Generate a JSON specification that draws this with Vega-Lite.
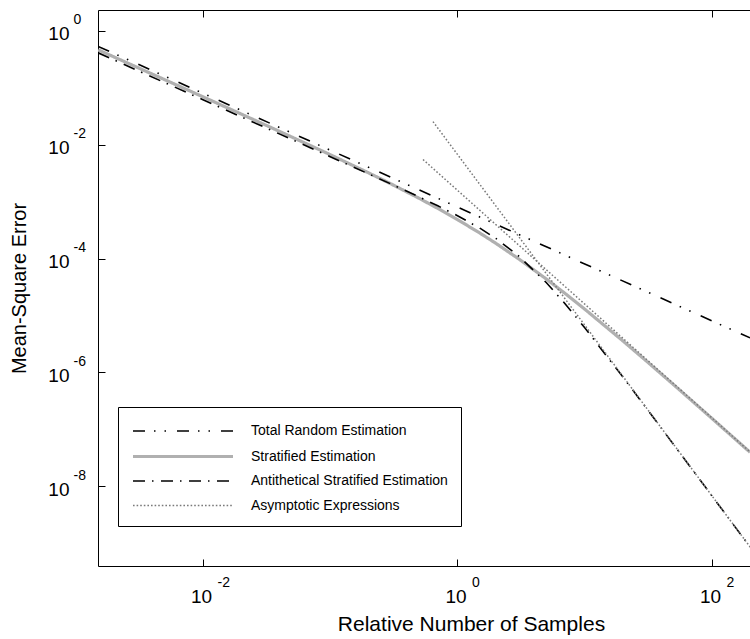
{
  "$schema": "https://vega.github.io/schema/vega-lite/v6.json",
  "autosize": {"type": "none"},
  "padding": {"left": 98, "top": 10, "right": 0, "bottom": 73},
  "width": 652,
  "height": 556,
  "background": "white",
  "config": {
    "view": {"stroke": "black", "strokeWidth": 1},
    "axis": {"labelFont": "Liberation Sans", "titleFont": "Liberation Sans", "labelColor": "black", "titleColor": "black", "tickColor": "black", "grid": false, "titleFontWeight": "normal"},
    "legend": {"labelFont": "Liberation Sans"}
  },
  "data": {"values": [
    {"s": "Total Random Estimation", "g": "t", "x": 0.0015, "y": 0.53689},
    {"s": "Total Random Estimation", "g": "t", "x": 0.01, "y": 0.080535},
    {"s": "Total Random Estimation", "g": "t", "x": 0.1, "y": 0.0080535},
    {"s": "Total Random Estimation", "g": "t", "x": 1, "y": 0.00080535},
    {"s": "Total Random Estimation", "g": "t", "x": 10, "y": 0.000080535},
    {"s": "Total Random Estimation", "g": "t", "x": 100, "y": 0.0000080535},
    {"s": "Total Random Estimation", "g": "t", "x": 199, "y": 0.000004047},
    {"s": "Stratified Estimation", "g": "s", "x": 0.0015, "y": 0.4662},
    {"s": "Stratified Estimation", "g": "s", "x": 0.003, "y": 0.23295},
    {"s": "Stratified Estimation", "g": "s", "x": 0.01, "y": 0.06967},
    {"s": "Stratified Estimation", "g": "s", "x": 0.03, "y": 0.023021},
    {"s": "Stratified Estimation", "g": "s", "x": 0.1, "y": 0.0067019},
    {"s": "Stratified Estimation", "g": "s", "x": 0.2, "y": 0.003215},
    {"s": "Stratified Estimation", "g": "s", "x": 0.3, "y": 0.0020598},
    {"s": "Stratified Estimation", "g": "s", "x": 0.5, "y": 0.0011465},
    {"s": "Stratified Estimation", "g": "s", "x": 0.7, "y": 0.00076366},
    {"s": "Stratified Estimation", "g": "s", "x": 1, "y": 0.00048544},
    {"s": "Stratified Estimation", "g": "s", "x": 1.5, "y": 0.00028064},
    {"s": "Stratified Estimation", "g": "s", "x": 2, "y": 0.0001858},
    {"s": "Stratified Estimation", "g": "s", "x": 3, "y": 0.00010034},
    {"s": "Stratified Estimation", "g": "s", "x": 5, "y": 0.00004363},
    {"s": "Stratified Estimation", "g": "s", "x": 7, "y": 0.000024437},
    {"s": "Stratified Estimation", "g": "s", "x": 10, "y": 0.000012922},
    {"s": "Stratified Estimation", "g": "s", "x": 20, "y": 0.000003559},
    {"s": "Stratified Estimation", "g": "s", "x": 30, "y": 0.0000016373},
    {"s": "Stratified Estimation", "g": "s", "x": 50, "y": 0.00000060645},
    {"s": "Stratified Estimation", "g": "s", "x": 100, "y": 0.00000015497},
    {"s": "Stratified Estimation", "g": "s", "x": 199, "y": 0.000000039569},
    {"s": "Antithetical Stratified Estimation", "g": "a", "x": 0.0015, "y": 0.41305},
    {"s": "Antithetical Stratified Estimation", "g": "a", "x": 0.003, "y": 0.20653},
    {"s": "Antithetical Stratified Estimation", "g": "a", "x": 0.01, "y": 0.061957},
    {"s": "Antithetical Stratified Estimation", "g": "a", "x": 0.03, "y": 0.020651},
    {"s": "Antithetical Stratified Estimation", "g": "a", "x": 0.1, "y": 0.0061901},
    {"s": "Antithetical Stratified Estimation", "g": "a", "x": 0.2, "y": 0.0030866},
    {"s": "Antithetical Stratified Estimation", "g": "a", "x": 0.3, "y": 0.0020484},
    {"s": "Antithetical Stratified Estimation", "g": "a", "x": 0.5, "y": 0.0012114},
    {"s": "Antithetical Stratified Estimation", "g": "a", "x": 0.7, "y": 0.0008471},
    {"s": "Antithetical Stratified Estimation", "g": "a", "x": 1, "y": 0.00056757},
    {"s": "Antithetical Stratified Estimation", "g": "a", "x": 1.5, "y": 0.00034245},
    {"s": "Antithetical Stratified Estimation", "g": "a", "x": 2, "y": 0.0002267},
    {"s": "Antithetical Stratified Estimation", "g": "a", "x": 3, "y": 0.00011318},
    {"s": "Antithetical Stratified Estimation", "g": "a", "x": 5, "y": 0.000037654},
    {"s": "Antithetical Stratified Estimation", "g": "a", "x": 7, "y": 0.000016122},
    {"s": "Antithetical Stratified Estimation", "g": "a", "x": 10, "y": 0.0000060961},
    {"s": "Antithetical Stratified Estimation", "g": "a", "x": 20, "y": 0.00000082272},
    {"s": "Antithetical Stratified Estimation", "g": "a", "x": 30, "y": 0.00000024742},
    {"s": "Antithetical Stratified Estimation", "g": "a", "x": 50, "y": 0.000000053855},
    {"s": "Antithetical Stratified Estimation", "g": "a", "x": 100, "y": 0.000000006754},
    {"s": "Antithetical Stratified Estimation", "g": "a", "x": 199, "y": 0.00000000085773},
    {"s": "Asymptotic Expressions", "g": "e1", "x": 0.536, "y": 0.005516},
    {"s": "Asymptotic Expressions", "g": "e1", "x": 10, "y": 0.000015848},
    {"s": "Asymptotic Expressions", "g": "e1", "x": 199, "y": 0.00000004002},
    {"s": "Asymptotic Expressions", "g": "e2", "x": 0.642, "y": 0.02555},
    {"s": "Asymptotic Expressions", "g": "e2", "x": 10, "y": 0.000006761},
    {"s": "Asymptotic Expressions", "g": "e2", "x": 199, "y": 0.00000000085797}
  ]},
  "resolve": {"axis": {"x": "independent", "y": "independent"}},
  "layer": [
    {
      "mark": {"type": "line", "clip": true, "strokeCap": "butt"},
      "encoding": {
        "x": {"field": "x", "type": "quantitative",
          "scale": {"type": "log", "domain": [0.0014962, 198.88], "nice": false},
          "axis": {"orient": "bottom", "values": [0.01, 1, 100], "labelExpr": "'10'", "labelFontSize": 19, "labelAlign": "center", "labelOffset": -2, "labelBaseline": "alphabetic", "tickSize": -7, "labelPadding": 43, "domain": false, "labelFlush": false, "labelOverlap": false, "title": "Relative Number of Samples", "titleFontSize": 21, "titleX": 373, "titleY": 64, "titleAlign": "center", "titleBaseline": "alphabetic"}},
        "y": {"field": "y", "type": "quantitative",
          "scale": {"type": "log", "domain": [3.963e-10, 2.339], "nice": false},
          "axis": {"orient": "left", "values": [1e-8, 1e-6, 1e-4, 1e-2, 1], "labelExpr": "'10'", "labelFontSize": 19, "labelAlign": "right", "labelBaseline": "middle", "labelOffset": 3, "tickSize": -7, "labelPadding": 36, "domain": false, "labelOverlap": false, "title": "Mean-Square Error", "titleFontSize": 20, "titleX": -79, "titleY": 278, "titleAngle": -90, "titleAlign": "center", "titleBaseline": "middle"}},
        "detail": {"field": "g"},
        "color": {"field": "s", "type": "nominal",
          "scale": {"domain": ["Total Random Estimation", "Stratified Estimation", "Antithetical Stratified Estimation", "Asymptotic Expressions"], "range": ["#000000", "#b0b0b0", "#000000", "#7a7a7a"]},
          "legend": {"title": null, "orient": "none", "legendX": 20, "legendY": 397, "padding": 13, "strokeColor": "black", "fillColor": "white", "symbolType": "M-1,0H9", "symbolSize": 400, "labelFontSize": 14, "labelOffset": 96, "rowPadding": 6.5, "labelColor": "black", "labelLimit": 0}},
        "strokeDash": {"field": "s", "type": "nominal",
          "scale": {"domain": ["Total Random Estimation", "Stratified Estimation", "Antithetical Stratified Estimation", "Asymptotic Expressions"], "range": [[12, 9, 1.5, 9, 1.5, 11], [1, 0], [12, 7, 1.5, 7.5], [1.6, 2]]},
          "legend": {"title": null, "orient": "none", "legendX": 20, "legendY": 397, "padding": 13, "strokeColor": "black", "fillColor": "white", "symbolType": "M-1,0H9", "symbolSize": 400, "labelFontSize": 14, "labelOffset": 96, "rowPadding": 6.5, "labelColor": "black", "labelLimit": 0}},
        "strokeWidth": {"field": "s", "type": "nominal",
          "scale": {"type": "ordinal", "domain": ["Total Random Estimation", "Stratified Estimation", "Antithetical Stratified Estimation", "Asymptotic Expressions"], "range": [1.6, 3.2, 1.6, 1.5]},
          "legend": {"title": null, "orient": "none", "legendX": 20, "legendY": 397, "padding": 13, "strokeColor": "black", "fillColor": "white", "symbolType": "M-1,0H9", "symbolSize": 400, "labelFontSize": 14, "labelOffset": 96, "rowPadding": 6.5, "labelColor": "black", "labelLimit": 0}}
      }
    },
    {
      "mark": {"type": "line", "opacity": 0},
      "encoding": {
        "x": {"field": "x", "type": "quantitative",
          "axis": {"orient": "bottom", "values": [0.01, 1, 100], "labelExpr": "'' + round(log(datum.value)/LN10)", "labelFontSize": 14, "labelAlign": "left", "labelOffset": 14, "labelBaseline": "alphabetic", "ticks": false, "domain": false, "labelPadding": 20, "title": null, "labelFlush": false, "labelOverlap": false}},
        "y": {"field": "y", "type": "quantitative",
          "axis": {"orient": "left", "values": [1e-8, 1e-6, 1e-4, 1e-2, 1], "labelExpr": "'' + round(log(datum.value)/LN10)", "labelFontSize": 14, "labelAlign": "left", "labelBaseline": "middle", "labelOffset": -11, "ticks": false, "domain": false, "labelPadding": 25, "title": null, "labelOverlap": false}},
        "detail": {"field": "g"}
      }
    },
    {
      "mark": {"type": "line", "opacity": 0},
      "encoding": {
        "x": {"field": "x", "type": "quantitative",
          "axis": {"orient": "top", "values": [0.01, 1, 100], "labels": false, "tickSize": -7, "domain": false, "title": null}},
        "y": {"field": "y", "type": "quantitative", "axis": null},
        "detail": {"field": "g"}
      }
    }
  ]
}
